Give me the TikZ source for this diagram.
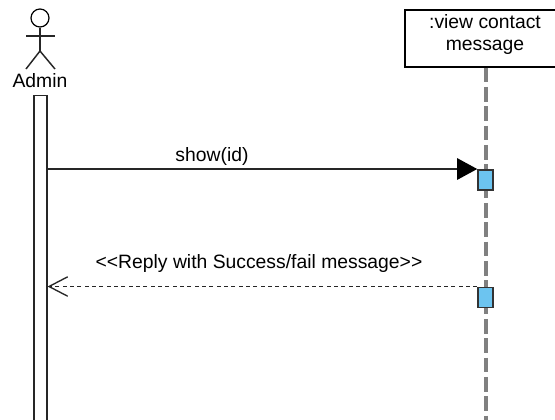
\documentclass[tikz,border=0pt]{standalone}
\usepackage{fontspec}
\setmainfont{Liberation Sans}
\usetikzlibrary{arrows.meta}
\definecolor{barblue}{HTML}{6CC4F0}
\tikzset{
    lbl/.style={font=\fontsize{14.5}{17}\selectfont,inner sep=0pt},
    stroke/.style={line width=1.1pt,black!85},
    bar/.style={draw=black!80,line width=1.4pt,fill=barblue,minimum width=11pt,minimum height=15pt,inner sep=0pt,anchor=north},
    lifeline/.style={line width=2.4pt,gray,dash pattern=on 11pt off 3.5pt}
}
\begin{document}
\begin{tikzpicture}[x=0.75pt,y=-0.75pt]
    \clip (0,0) rectangle (555,419);
    \node(head) at (40,18) [circle,draw,line width=0.9pt,minimum size=13.5pt,inner sep=0pt] {};
    \coordinate(hip) at (40,51);
    \coordinate(lh) at (26,36);
    \coordinate(rh) at (55,36);
    \coordinate(lf) at (26,69);
    \coordinate(rf) at (55,69);
    \node(admin) at (40,81) [lbl] {Admin};
    \node(adminbar) at (40.5,95) [anchor=north,draw,stroke,fill=white,minimum width=9.5pt,minimum height=255pt,inner sep=0pt] {};
    \node(view) at (486,38.5) [draw,line width=1.1pt,fill=white,minimum width=121.5pt,minimum height=42.5pt,inner sep=0pt] {};
    \node(viewtext) at (485,34.5) [lbl,align=center] {:view contact\\message};
    \coordinate(end) at (486,425);
    \draw[lifeline] (view) to (end);
    \node(show) at (485.5,169) [bar] {};
    \node(reply) at (485.5,286.5) [bar] {};
    \draw[stroke,-{Triangle[length=15pt,width=16pt,black]}] (adminbar.east |- show.north) to (show.north west);
    \draw[line width=1pt,black!85,dash pattern=on 3pt off 2.5pt,-{Straight Barb[length=14pt,width=15pt,line width=1pt,angle'=55]}] (reply.north west) to (adminbar.east |- reply.north);
    \node(showlbl) at (212,156.5) [lbl] {show(id)};
    \node(replylbl) at (259,263.5) [lbl] {<{}<Reply with Success/fail message>{}>};
    \draw[stroke] (head) to (hip);
    \draw[stroke] (lh) to (rh);
    \draw[stroke] (hip) to (lf);
    \draw[stroke] (hip) to (rf);
\end{tikzpicture}
\end{document}
